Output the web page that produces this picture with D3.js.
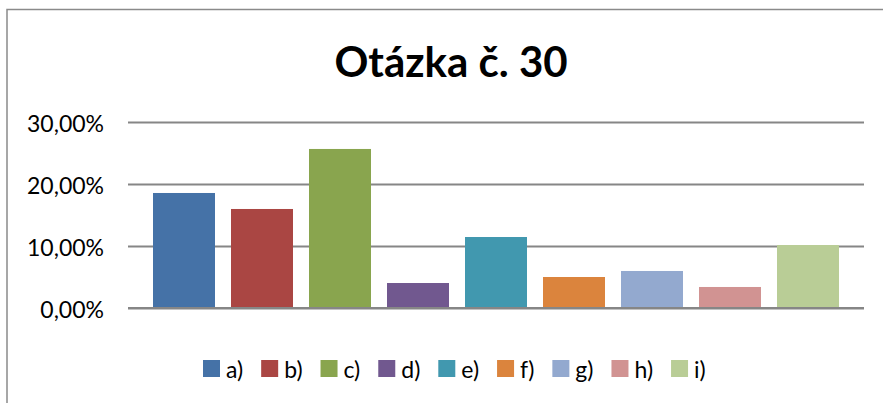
<!DOCTYPE html>
<html>
<head>
<meta charset="utf-8">
<script src="https://cdn.jsdelivr.net/npm/d3@7/dist/d3.min.js"></script>
<style>
  html, body { margin: 0; padding: 0; background: #fff; }
  svg { display: block; }
</style>
</head>
<body>
<script>
const title = "Otázka č. 30";
const categories = ["a)", "b)", "c)", "d)", "e)", "f)", "g)", "h)", "i)"];
const values = [0.1855, 0.1597, 0.2565, 0.0403, 0.1145, 0.05, 0.0597, 0.0339, 0.1016];
const colors = ["#4572A7", "#AA4643", "#89A54E", "#71588F", "#4198AF", "#DB843D", "#93A9CF", "#D19392", "#B9CD96"];
const yTicks = [0, 0.1, 0.2, 0.3];

const W = 883, H = 403;
const font = "Lato, 'Open Sans', sans-serif";

const svg = d3.select("body").append("svg").attr("width", W).attr("height", H);
svg.append("rect").attr("width", W).attr("height", H).attr("fill", "#fff");

// chart frame
svg.append("rect")
  .attr("x", 7).attr("y", 9.5)
  .attr("width", W + 20).attr("height", H + 20)
  .attr("fill", "none").attr("stroke", "#8a8a8a").attr("stroke-width", 1.5);

// title
svg.append("text")
  .attr("x", 451).attr("y", 77)
  .attr("text-anchor", "middle")
  .attr("font-family", font).attr("font-weight", "bold")
  .attr("font-size", 42).attr("fill", "#000")
  .text(title);

const plotL = 128, plotR = 864;
const y = d3.scaleLinear().domain([0, 0.3]).range([308, 122]);
const x = d3.scaleBand().domain(categories).range([145, 847])
  .paddingInner(16 / 78).paddingOuter(8 / 78);

const locale = d3.formatLocale({ decimal: ",", thousands: " ", grouping: [3], currency: ["", " €"] });
const fmt = locale.format(".2%");

const axis = d3.axisLeft(y).tickValues(yTicks).tickFormat(fmt)
  .tickSize(-(plotR - plotL)).tickPadding(24);

const gAxis = svg.append("g").attr("transform", `translate(${plotL},0)`).call(axis);
gAxis.select(".domain").remove();
gAxis.selectAll(".tick line").attr("stroke", "#868686").attr("stroke-width", 2);
gAxis.selectAll(".tick text")
  .attr("font-family", font).attr("font-size", 23).attr("fill", "#000")
  .attr("dy", "0.42em");

// bars
svg.append("g").selectAll("rect").data(values).join("rect")
  .attr("x", (d, i) => x(categories[i]))
  .attr("width", x.bandwidth())
  .attr("y", d => y(d))
  .attr("height", d => y(0) - y(d))
  .attr("fill", (d, i) => colors[i]);

// redraw baseline over bars
svg.append("line")
  .attr("x1", plotL).attr("x2", plotR)
  .attr("y1", y(0)).attr("y2", y(0))
  .attr("stroke", "#868686").attr("stroke-width", 2);

// legend (flow layout)
const legend = svg.append("g");
let lx = 203;
categories.forEach((c, i) => {
  legend.append("rect").attr("x", lx).attr("y", 360).attr("width", 17).attr("height", 17).attr("fill", colors[i]);
  const t = legend.append("text").attr("x", lx + 23).attr("y", 378)
    .attr("font-family", font).attr("font-size", 23).attr("fill", "#000").text(c);
  lx += 23 + t.node().getComputedTextLength() + 18;
});
</script>
</body>
</html>
